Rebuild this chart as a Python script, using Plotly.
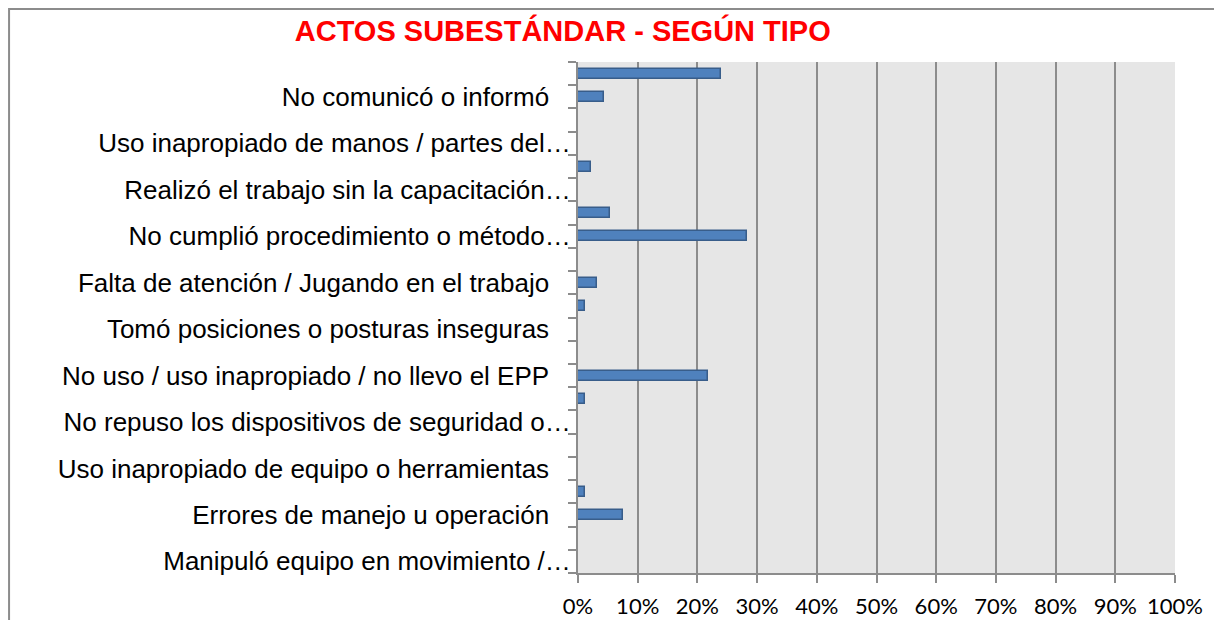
import plotly.graph_objects as go

# 22 categories, Excel only shows every other label
labels = [
    "", "No comunicó o informó",
    "", "Uso inapropiado de manos / partes del…",
    "", "Realizó el trabajo sin la capacitación…",
    "", "No cumplió procedimiento o método…",
    "", "Falta de atención / Jugando en el trabajo",
    "", "Tomó posiciones o posturas inseguras",
    "", "No uso / uso inapropiado / no llevo el EPP",
    "", "No repuso los dispositivos de seguridad o…",
    "", "Uso inapropiado de equipo o herramientas",
    "", "Errores de manejo u operación",
    "", "Manipuló equipo en movimiento /…",
]
values = [
    0.239, 0.0435,
    0.0, 0.0,
    0.0217, 0.0,
    0.0543, 0.2826,
    0.0, 0.0326,
    0.0109, 0.0,
    0.0, 0.2174,
    0.0109, 0.0,
    0.0, 0.0,
    0.0109, 0.0761,
    0.0, 0.0,
]
x_ticks = [i / 10 for i in range(11)]

pos = list(range(len(labels)))
shown = [i for i, l in enumerate(labels) if l]
# labels cut by Excel overflow to the axis, the others stop short of it
ticktext = [labels[i] if labels[i].endswith("…") else labels[i] + "\u00a0" * 3 for i in shown]

grid = "#8C8C8C"

fig = go.Figure()
fig.add_trace(go.Bar(
    x=values, y=pos, orientation="h", width=0.43,
    marker=dict(color="#4F81BD", line=dict(color="#385D8A", width=1.5)),
    hoverinfo="x",
))

fig.update_layout(
    width=1222, height=620,
    margin=dict(l=570, r=55, t=54, b=55),
    paper_bgcolor="white", plot_bgcolor="#E6E6E6",
    showlegend=False, bargap=0,
    title=dict(
        text="<b>ACTOS SUBESTÁNDAR - SEGÚN TIPO</b>",
        font=dict(family="Liberation Sans, Arial", size=29, color="#FF0000"),
        x=0.454, xref="container", xanchor="center",
        y=0.963, yref="container", yanchor="middle",
    ),
    shapes=[dict(
        type="rect", xref="paper", yref="paper",
        x0=-0.953, x1=1.072, y0=-0.3, y1=1.1035,
        line=dict(color=grid, width=2), layer="below",
    )],
)

fig.update_xaxes(
    range=[0, 1], tickvals=x_ticks, tickformat=".0%",
    showgrid=True, gridcolor=grid, gridwidth=2,
    showline=True, linecolor=grid, linewidth=2,
    ticks="outside", ticklen=8, tickcolor=grid, tickwidth=2,
    tickfont=dict(family="Lato, Open Sans", size=22, color="black"),
    ticklabelstandoff=5, zeroline=False, automargin=False,
)
fig.update_yaxes(
    range=[len(labels) - 0.5, -0.5],
    tickmode="array", tickvals=shown, ticktext=ticktext,
    ticks="", ticklen=0, showgrid=False, zeroline=False,
    showline=True, linecolor=grid, linewidth=2,
    tickfont=dict(family="Liberation Sans, Arial", size=26, color="black"),
    ticklabelstandoff=0, automargin=False,
    minor=dict(
        tickmode="array", tickvals=[i - 0.5 for i in range(len(labels) + 1)],
        ticks="outside", ticklen=8, tickcolor=grid, tickwidth=2, showgrid=False,
    ),
)

fig.write_html("out.html")
